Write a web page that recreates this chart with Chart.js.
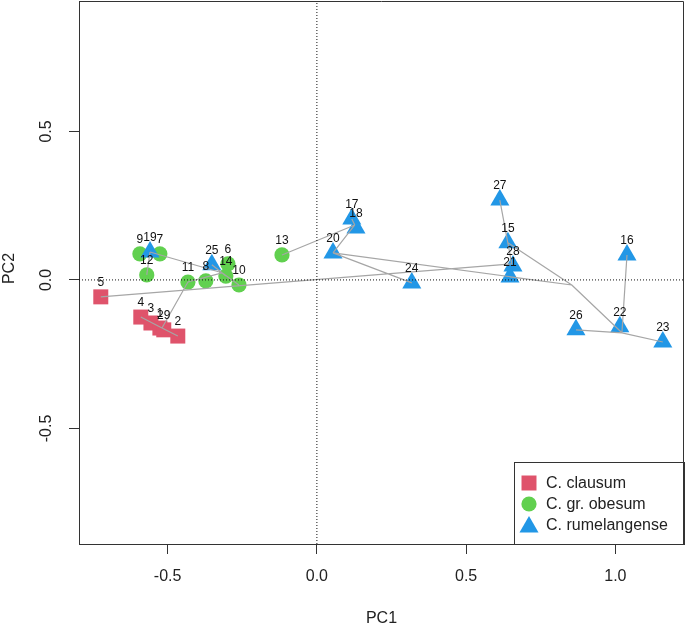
<!DOCTYPE html>
<html lang="en">
<head>
<meta charset="UTF-8">
<title>PCA scores</title>
<style>
    html, body {
        margin: 0;
        padding: 0;
        background-color: #ffffff;
    }
    .chart-container {
        width: 685px;
        height: 624px;
    }
</style>
</head>
<body>
<div class="chart-container">
    <canvas id="pcaChart" width="685" height="624"></canvas>
</div>

<script src="https://cdn.jsdelivr.net/npm/chart.js"></script>
<script>
// Axis limits and ticks
var xMin = -0.797, xMax = 1.230;
var yMin = -0.889, yMax = 0.939;
var xTicks = [-0.5, 0.0, 0.5, 1.0];
var yTicks = [-0.5, 0.0, 0.5];

// C. clausum
var clausumLabels = ['5', '4', '3', '1', '29', '2'];
var clausumPC1 = [-0.724, -0.590, -0.556, -0.526, -0.513, -0.466];
var clausumPC2 = [-0.057, -0.125, -0.145, -0.162, -0.168, -0.189];

// C. gr. obesum
var obesumLabels = ['9', '7', '12', '11', '8', '6', '14', '10', '13'];
var obesumPC1 = [-0.593, -0.526, -0.570, -0.432, -0.372, -0.298, -0.305, -0.261, -0.117];
var obesumPC2 = [0.088, 0.088, 0.017, -0.007, -0.003, 0.054, 0.013, -0.017, 0.084];

// C. rumelangense
var rumelLabels = ['19', '25', '17', '18', '20', '24', '27', '15', '28', '21', '16', '26', '22', '23'];
var rumelPC1 = [-0.559, -0.352, 0.117, 0.131, 0.054, 0.318, 0.613, 0.640, 0.657, 0.647, 1.039, 0.868, 1.015, 1.159];
var rumelPC2 = [0.094, 0.051, 0.205, 0.175, 0.091, -0.010, 0.269, 0.125, 0.047, 0.010, 0.084, -0.168, -0.158, -0.209];

// junctions of the grey connecting lines
var hubNames = ['h1', 'h2', 'h3', 'h4', 'h5', 'h6'];
var hubPC1 = [-0.519, -0.318, 0.127, 0.854, 0.653, 1.022];
var hubPC2 = [-0.162, 0.024, 0.185, -0.017, 0.054, -0.178];

// grey segments, start and end (sample label or junction)
var segFrom = ['4', '2', '11', '12', '19', '11', '25', '10', '14', '5', '27', '13', '20', '17', '20', '20', '21', '15', 'h4', '16', '26', '23'];
var segTo   = ['h1', 'h1', 'h1', '19', 'h2', 'h2', 'h2', 'h2', 'h2', 'h5', 'h5', 'h3', 'h3', 'h3', '24', 'h4', 'h4', 'h4', 'h6', 'h6', 'h6', 'h6'];

var legendNames = ['C. clausum', 'C. gr. obesum', 'C. rumelangense'];

var redCol = '#DF536B', greenCol = '#61D04F', blueCol = '#2297E6';
var fontFam = '"Liberation Sans", Arial, sans-serif';

function toPoints(xs, ys) {
    return xs.map(function (v, i) { return { x: v, y: ys[i] }; });
}

// lookup of every named location
var where = {};
function addNames(names, xs, ys) {
    names.forEach(function (n, i) { where[n] = { x: xs[i], y: ys[i] }; });
}
addNames(clausumLabels, clausumPC1, clausumPC2);
addNames(obesumLabels, obesumPC1, obesumPC2);
addNames(rumelLabels, rumelPC1, rumelPC2);
addNames(hubNames, hubPC1, hubPC2);

var segData = [];
segFrom.forEach(function (f, i) {
    segData.push(where[f]);
    segData.push(where[segTo[i]]);
    segData.push({ x: null, y: null });
});

function noPadding(scale) {
    scale.paddingTop = 0;
    scale.paddingBottom = 0;
    scale.paddingLeft = 0;
    scale.paddingRight = 0;
}

// labels above each point, box, legend, axis titles and vertical y tick labels
var decorPlugin = {
    id: 'decor',
    afterDatasetsDraw: function (chart) {
        var ctx = chart.ctx;
        var area = chart.chartArea;
        ctx.save();

        // sample numbers
        ctx.fillStyle = '#111';
        ctx.font = '12px ' + fontFam;
        ctx.textAlign = 'center';
        ctx.textBaseline = 'middle';
        chart.data.datasets.forEach(function (ds, di) {
            if (!ds.pointLabels) return;
            var meta = chart.getDatasetMeta(di);
            meta.data.forEach(function (el, i) {
                ctx.fillText(ds.pointLabels[i], el.x, el.y - 14);
            });
        });

        // legend
        var lw = 170, lh = 82;
        var lx = area.right - lw, ly = area.bottom - lh;
        ctx.fillStyle = '#fff';
        ctx.fillRect(lx, ly, lw, lh);
        ctx.strokeStyle = '#333';
        ctx.lineWidth = 1;
        ctx.strokeRect(Math.round(lx) + 0.5, Math.round(ly) + 0.5, lw, lh);
        var styles = [
            { pointStyle: 'rect', radius: 10.6, col: redCol },
            { pointStyle: 'circle', radius: 7.6, col: greenCol },
            { pointStyle: 'triangle', radius: 11, col: blueCol }
        ];
        ctx.font = '16px ' + fontFam;
        ctx.textAlign = 'left';
        legendNames.forEach(function (name, i) {
            var cy = ly + 21 + i * 21;
            ctx.fillStyle = styles[i].col;
            Chart.helpers.drawPoint(ctx, {
                pointStyle: styles[i].pointStyle,
                radius: styles[i].radius,
                rotation: 0,
                borderWidth: 0
            }, lx + 15, cy + (i === 2 ? 2 : 0));
            ctx.fillStyle = '#222';
            ctx.fillText(name, lx + 32, cy + 1);
        });

        // box top and right
        ctx.strokeStyle = '#333';
        ctx.beginPath();
        ctx.moveTo(Math.round(area.left) + 0.5, Math.round(area.top) + 0.5);
        ctx.lineTo(Math.round(area.right) - 0.5, Math.round(area.top) + 0.5);
        ctx.lineTo(Math.round(area.right) - 0.5, Math.round(area.bottom) + 0.5);
        ctx.stroke();

        // y tick labels, vertical as in R
        var ys = chart.scales.y;
        ctx.fillStyle = '#222';
        ctx.font = '16px ' + fontFam;
        ctx.textAlign = 'center';
        yTicks.forEach(function (v) {
            ctx.save();
            ctx.translate(47, ys.getPixelForValue(v));
            ctx.rotate(-Math.PI / 2);
            ctx.fillText(v.toFixed(1), 0, 0);
            ctx.restore();
        });

        // axis titles
        ctx.fillText('PC1', (area.left + area.right) / 2, 619);
        ctx.save();
        ctx.translate(10, (area.top + area.bottom) / 2 - 4);
        ctx.rotate(-Math.PI / 2);
        ctx.fillText('PC2', 0, 0);
        ctx.restore();

        ctx.restore();
    }
};

var ctx = document.getElementById('pcaChart').getContext('2d');

var pcaChart = new Chart(ctx, {
    type: 'scatter',
    data: {
        datasets: [
            {
                label: legendNames[0],
                data: toPoints(clausumPC1, clausumPC2),
                pointLabels: clausumLabels,
                pointStyle: 'rect',
                pointRadius: 10.6,
                backgroundColor: redCol,
                borderWidth: 0,
                order: 4
            },
            {
                label: legendNames[1],
                data: toPoints(obesumPC1, obesumPC2),
                pointLabels: obesumLabels,
                pointStyle: 'circle',
                pointRadius: 7.6,
                backgroundColor: greenCol,
                borderWidth: 0,
                order: 3
            },
            {
                label: legendNames[2],
                data: toPoints(rumelPC1, rumelPC2),
                pointLabels: rumelLabels,
                pointStyle: 'triangle',
                pointRadius: 11,
                backgroundColor: blueCol,
                borderWidth: 0,
                order: 2
            },
            {
                label: 'links',
                data: segData,
                showLine: true,
                spanGaps: false,
                borderColor: '#a6a6a6',
                borderWidth: 1.2,
                pointRadius: 0,
                order: 1
            },
            {
                label: 'x0',
                data: [{ x: 0, y: yMin }, { x: 0, y: yMax }],
                showLine: true,
                borderColor: '#111',
                borderWidth: 1,
                borderDash: [1, 2],
                pointRadius: 0,
                order: 0
            },
            {
                label: 'y0',
                data: [{ x: xMin, y: 0 }, { x: xMax, y: 0 }],
                showLine: true,
                borderColor: '#111',
                borderWidth: 1,
                borderDash: [1, 2],
                pointRadius: 0,
                order: 0
            }
        ]
    },
    options: {
        responsive: false,
        animation: false,
        events: [],
        layout: { autoPadding: false, padding: { top: 1, right: 1, left: 0, bottom: 0 } },
        plugins: {
            legend: { display: false },
            tooltip: { enabled: false }
        },
        scales: {
            x: {
                type: 'linear',
                min: xMin,
                max: xMax,
                afterBuildTicks: function (scale) {
                    scale.ticks = xTicks.map(function (v) { return { value: v }; });
                },
                afterFit: function (scale) { scale.height = 80; noPadding(scale); },
                ticks: {
                    padding: 13,
                    color: '#222',
                    font: { size: 16, family: fontFam },
                    maxRotation: 0,
                    callback: function (v) { return v.toFixed(1); }
                },
                grid: { drawOnChartArea: false, tickLength: 10, color: '#333' },
                border: { display: true, color: '#333' }
            },
            y: {
                type: 'linear',
                min: yMin,
                max: yMax,
                afterBuildTicks: function (scale) {
                    scale.ticks = yTicks.map(function (v) { return { value: v }; });
                },
                afterFit: function (scale) { scale.width = 79; noPadding(scale); },
                ticks: { display: false },
                grid: { drawOnChartArea: false, tickLength: 10, color: '#333' },
                border: { display: true, color: '#333' }
            }
        }
    },
    plugins: [decorPlugin]
});
</script>
</body>
</html>
